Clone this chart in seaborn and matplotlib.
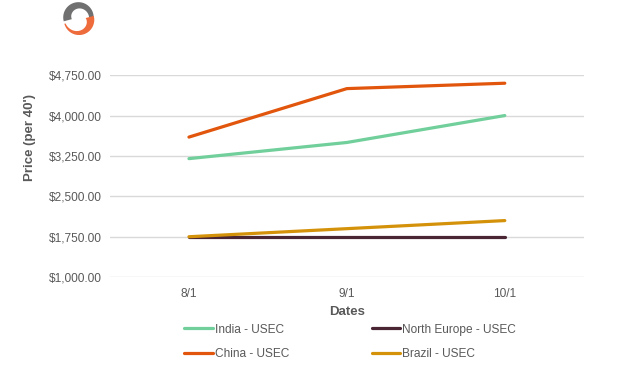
import matplotlib
matplotlib.use("Agg")
import matplotlib.pyplot as plt
import seaborn as sns
import pandas as pd
import numpy as np
from matplotlib.patches import Polygon

dates = ["8/1", "9/1", "10/1"]
india = [3200, 3500, 4000]
north_europe = [1750, 1750, 1750]
china = [3600, 4500, 4600]
brazil = [1750, 1900, 2050]
series_names = ["India - USEC", "North Europe - USEC", "China - USEC", "Brazil - USEC"]
yticks = [1000, 1750, 2500, 3250, 4000, 4750]

colors = {"India - USEC": "#70CF9A", "North Europe - USEC": "#4A2634",
          "China - USEC": "#E1560C", "Brazil - USEC": "#D4920B"}

df = pd.DataFrame({"Dates": dates * 4,
                   "Price": india + north_europe + china + brazil,
                   "Series": sum([[n] * 3 for n in series_names], [])})

sns.set_theme(style="white")
plt.rcParams["font.family"] = ["Liberation Sans", "DejaVu Sans"]

fig = plt.figure(figsize=(6.25, 3.72), dpi=100)
ax = fig.add_axes([0.176, 0.255, 0.758, 0.543])
sns.lineplot(data=df, x="Dates", y="Price", hue="Series", hue_order=series_names,
             palette=colors, linewidth=2.3, ax=ax, sort=False, legend=False)
ax.set_xlim(-0.5, 2.5)
ax.set_ylim(1000, 4750)
ax.set_yticks(yticks)
ax.set_yticklabels([f"${v:,.2f}" for v in yticks])
ax.yaxis.grid(True, color="#D9D9D9", linewidth=1)
ax.set_axisbelow(True)
for s in ax.spines.values():
    s.set_visible(False)
ax.tick_params(axis="y", length=0, labelsize=8.6, labelcolor="#595959", pad=6)
ax.tick_params(axis="x", length=0, labelsize=8.6, labelcolor="#595959", pad=8)
ax.set_xlabel("Dates", fontsize=9.5, fontweight="bold", color="#595959", labelpad=4)
ax.set_ylabel("Price (per 40')", fontsize=9.5, fontweight="bold", color="#595959")
ax.yaxis.set_label_coords(-0.156, 0.693)

handles = [plt.Line2D([], [], color=colors[n], linewidth=2.3) for n in series_names]
order = [0, 2, 1, 3]
leg = fig.legend([handles[i] for i in order], [series_names[i] for i in order],
                 loc="upper left", bbox_to_anchor=(0.295, 0.130), ncol=2, frameon=False,
                 fontsize=8.6, handlelength=2.4, handletextpad=0.15, columnspacing=6.9,
                 labelspacing=1.05, borderaxespad=0, borderpad=0)
for t in leg.get_texts():
    t.set_color("#595959")

# logo (swirl)
lax = fig.add_axes([0.096, 0.905, 0.06, 0.09])
lax.set_xlim(-1.1, 1.1)
lax.set_ylim(-1.1, 1.1)
lax.set_aspect("equal")
lax.axis("off")


def swirl(cx, cy, a0, a1, w0, w1, color):
    t = np.linspace(0, 1, 60)
    ang = np.radians(a0 + (a1 - a0) * t)
    w = w0 + (w1 - w0) * t
    outer = np.c_[cx + np.cos(ang), cy + np.sin(ang)]
    inner = np.c_[cx + (1 - w) * np.cos(ang), cy + (1 - w) * np.sin(ang)]
    lax.add_patch(Polygon(np.r_[outer, inner[::-1]], closed=True, color=color, lw=0))


swirl(-0.02, 0.08, 195, 0, 0.55, 0.3, "#707070")
swirl(0.02, -0.08, 15, -165, 0.55, 0.08, "#EE6B3C")

fig.savefig("out.png", dpi=100)
